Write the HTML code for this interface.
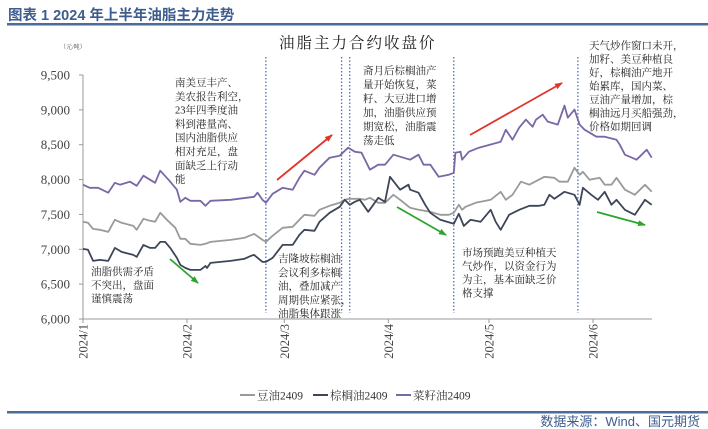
<!DOCTYPE html>
<html><head><meta charset="utf-8"><style>
body{margin:0;background:#fff;width:708px;height:429px;overflow:hidden}
svg{display:block}
.s{font-family:"Liberation Serif","Noto Serif CJK SC",serif}
.a{font-family:"Liberation Serif","Noto Serif CJK SC",serif;font-size:10.5px;fill:#222}
</style></head><body>
<svg id="c" width="708" height="429">
<text x="8" y="20" font-family="Liberation Sans,Noto Sans CJK SC,sans-serif" font-size="14.5" font-weight="bold" fill="#3e5d8e">图表 1  2024 年上半年油脂主力走势</text>
<rect x="7" y="23" width="348" height="2.5" fill="#4a6c98"/>
<rect x="355" y="23" width="355" height="2.5" fill="#4a6c98"/>
<rect x="7" y="411" width="348" height="2.5" fill="#4a6c98"/>
<rect x="355" y="411" width="355" height="2.5" fill="#4a6c98"/>
<text x="700" y="426" text-anchor="end" font-family="Liberation Sans,Noto Sans CJK SC,sans-serif" font-size="13" fill="#3e5d8e">数据来源：Wind、国元期货</text>
<text x="279" y="48" class="s" font-size="15.5" letter-spacing="2" fill="#222">油脂主力合约收盘价</text>
<text x="60" y="49" class="s" font-size="6" fill="#444">（元/吨）</text>
<g id="axes"></g><g id="marks"></g><g id="notes"></g>
</svg>
<script>
const yTicks=[6000,6500,7000,7500,8000,8500,9000,9500];
const xTickLabels=["2024/1","2024/2","2024/3","2024/4","2024/5","2024/6"];
const xTickDays=[0,31,60,91,121,152];
const eventDays=[23121/300,54.5,79.5,110.5,147.5];
const soyDays=[0,1.5,3,5,7.5,9.5,11.5,15,16,18,20,21.5,23,25,27.5,29,30.5,32,35,36.5,38,44,48,51,53.5,54.5,56.5,59.5,62.5,64.5,66,69,70.5,73.5,76.5,78,79.5,82.5,84,85.5,88,90,92.5,94.5,97.5,100,103.5,106.5,109,110.5,112,113,114,117,121.5,124.5,126,128,130.5,133,137.5,140.5,142,144.5,146.5,148,149,151,154,155.5,157.5,159,161.5,164.5,167.5,169.5];
const soyVals=[7394,7380,7293,7279,7250,7423,7380,7336,7279,7437,7408,7394,7523,7423,7308,7150,7150,7078,7063,7078,7106,7135,7164,7221,7135,7106,7193,7308,7322,7423,7494,7480,7566,7624,7667,7710,7724,7724,7710,7739,7667,7667,7782,7710,7595,7566,7538,7494,7494,7523,7638,7566,7609,7667,7710,7825,7710,7782,7969,7926,8040,8026,7969,7969,8170,8069,8112,7997,8026,7926,7926,8026,7854,7782,7926,7825];
const palmDays=[0,1.5,3,5,7.5,9.5,11.5,15,16,18,20,21.5,23,24.5,26,28,29,30.5,32,35,36.5,37,38,44,48,50,51,53.5,54.5,56.5,59.5,62.5,64.5,66,69,70.5,73.5,76.5,78,79.5,81,82.5,85,88,90,91.5,94.5,97,97.5,100,102,103.5,106.5,109.5,110.5,112,113.5,115.5,118.5,121.5,123,124.5,127,130,133,136,137.5,139,140.5,143.5,146.5,148,149,151.5,153.5,155.5,157.5,159,161.5,164.5,167.5,169.5];
const palmVals=[7006,6992,6833,6848,6833,7020,6963,6920,6891,7063,7020,7020,7106,7106,7020,6877,6776,6733,6704,6704,6762,6733,6805,6833,6862,6905,6920,6819,6819,6877,7063,7063,7207,7279,7265,7394,7523,7609,7710,7638,7681,7710,7538,7739,7681,8040,7854,7926,7854,7811,7638,7523,7423,7380,7365,7509,7336,7423,7394,7566,7394,7279,7494,7566,7624,7624,7638,7782,7724,7825,7782,7638,7882,7782,7710,7825,7638,7710,7566,7494,7710,7638];
const rapeDays=[0,2,4.5,7.5,9.5,11,14,16,18,21.5,23,25.5,28,29,30.5,32,35,36.5,38,44,51,52,53.5,54.5,56.5,59.5,62.5,64.5,66,69,70.5,73.5,76.5,79,81,83,85.5,88,90,92.5,97.5,100,101.5,103.5,106,109,110.5,111,112.5,113,115,118,124.5,126,128,130,132,134,135,137,138.5,141.5,143.5,144.5,146.5,148,149.5,153,155.5,159,160,161.5,165,168,169.5];
const rapeVals=[7926,7882,7882,7811,7954,7926,7969,7911,8055,7954,8127,7997,7854,7681,7739,7696,7696,7624,7696,7710,7753,7811,7710,7667,7796,7882,7854,8026,8127,8069,8170,8314,8342,8457,8400,8385,8141,8213,8213,8357,8285,8357,8213,8213,8040,8069,8098,8385,8400,8285,8400,8457,8543,8716,8572,8745,8860,8759,8860,8931,8831,8788,9061,8888,9003,8788,8716,8615,8615,8572,8500,8357,8285,8428,8314];
const NS="http://www.w3.org/2000/svg";
const X0=83,X1=652,Y0=319;
const xS=d=>83+d*(510/152);
const yS=v=>319-(v-6000)*(244/3500);
function mk(t,a,p){const e=document.createElementNS(NS,t);for(const k in a)e.setAttribute(k,a[k]);p.appendChild(e);return e;}
const ax=document.getElementById('axes'),mg=document.getElementById('marks'),ng=document.getElementById('notes');
let e=mk('line',{x1:X0,y1:75,x2:X0,y2:Y0,stroke:'#999'},ax);

e=mk('line',{x1:X0,y1:Y0,x2:X1,y2:Y0,stroke:'#999'},ax);

yTicks.forEach(v=>{const y=yS(v);mk('line',{x1:X0-4,y1:y,x2:X0,y2:y,stroke:'#999'},ax);
const t=mk('text',{x:70,y:y+4.5,'text-anchor':'end','class':'s','font-size':'13',fill:'#444'},ax);t.textContent=v.toLocaleString('en-US');
});
xTickDays.forEach((d,i)=>{const x=xS(d);mk('line',{x1:x,y1:Y0,x2:x,y2:Y0+4,stroke:'#999'},ax);
const t=mk('text',{x:0,y:0,transform:`translate(${x+4.5},324) rotate(-90)`,'text-anchor':'end','class':'s','font-size':'12.5',fill:'#444'},ax);t.textContent=xTickLabels[i];
});
eventDays.forEach(d=>{const x=xS(d);e=mk('line',{x1:x,y1:57,x2:x,y2:313,stroke:'#4a72c0','stroke-width':1.3,'stroke-dasharray':'1.5,2'},ax);
});
function series(days,vals,col,name){const p=days.map((d,i)=>xS(d).toFixed(1)+','+yS(vals[i]).toFixed(1)).join(' ');
const l=mk('polyline',{points:p,fill:'none',stroke:col,'stroke-width':1.8,'stroke-linejoin':'round'},mg);
}
series(soyDays,soyVals,'#9a9a9a','soybean-oil-line');
series(palmDays,palmVals,'#3c4658','palm-oil-line');
series(rapeDays,rapeVals,'#7a68a6','rapeseed-oil-line');
// arrows
const defs=mk('defs',{},document.getElementById('c'));
[['r','#e0352b'],['g','#2ca52c']].forEach(([id,c])=>{const m=mk('marker',{id:'m'+id,markerWidth:8,markerHeight:6,refX:7,refY:3,orient:'auto',markerUnits:'userSpaceOnUse'},defs);mk('path',{d:'M0,0 L8,3 L0,6 Z',fill:c},m);});
[[277,180,332,135,'r'],[470,135,562,83,'r'],[170,259,198,283,'g'],[397,207,446,235,'g'],[597,212,645,225,'g']].forEach(a=>{
e=mk('line',{x1:a[0],y1:a[1],x2:a[2],y2:a[3],stroke:a[4]=='r'?'#e0352b':'#2ca52c','stroke-width':1.8,'marker-end':'url(#m'+a[4]+')'},ng);
});
const notes=[
[175,86,13.8,["南美豆丰产、","美农报告利空，","23年四季度油","料到港量高、","国内油脂供应","相对充足，盘","面缺乏上行动","能"],'annotation-jan'],
[363,74,14,["斋月后棕榈油产","量开始恢复，菜","籽、大豆进口增","加，油脂供应预","期宽松，油脂震","荡走低"],'annotation-apr'],
[589,49,13.5,["天气炒作窗口未开，","加籽、美豆种植良","好，棕榈油产地开","始累库，国内菜、","豆油产量增加，棕","榈油远月买船强劲，","价格如期回调"],'annotation-jun'],
[91,275,13.5,["油脂供需矛盾","不突出，盘面","谨慎震荡"],'annotation-early-jan'],
[278,262,13.8,["吉隆坡棕榈油","会议利多棕榈","油，叠加减产","周期供应紧张，","油脂集体跟涨"],'annotation-mar'],
[462,256,13.5,["市场预跑美豆种植天","气炒作，以资金行为","为主，基本面缺乏价","格支撑"],'annotation-may']];
notes.forEach(n=>{const t=mk('text',{x:n[0],y:n[1],'class':'a'},ng);
n[3].forEach((s,i)=>{const ts=mk('tspan',{x:n[0],dy:i?n[2]:0},t);ts.textContent=s;});});
// legend
const leg=[['豆油2409','#9a9a9a',240],['棕榈油2409','#3c4658',313],['菜籽油2409','#7a68a6',396]];
leg.forEach(l=>{const g=mk('g',{},ng);
mk('line',{x1:l[2],y1:395,x2:l[2]+15,y2:395,stroke:l[1],'stroke-width':2},g);
const t=mk('text',{x:l[2]+17,y:399.5,'class':'s','font-size':'11.5',fill:'#333'},g);t.textContent=l[0];});
</script>
</body></html>
